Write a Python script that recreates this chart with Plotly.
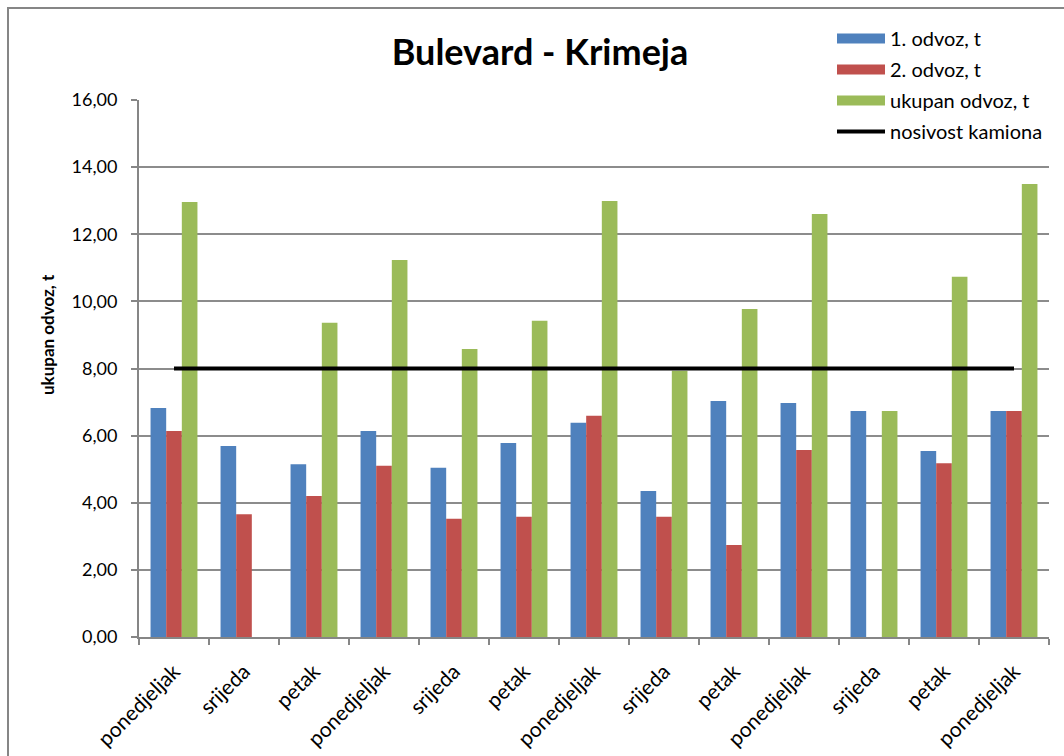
import plotly.graph_objects as go

categories = ["ponedjeljak", "srijeda", "petak", "ponedjeljak", "srijeda", "petak",
              "ponedjeljak", "srijeda", "petak", "ponedjeljak", "srijeda", "petak",
              "ponedjeljak"]
odvoz1 = [6.82, 5.69, 5.15, 6.14, 5.04, 5.78, 6.38, 4.35, 7.03, 6.97, 6.73, 5.54, 6.73]
odvoz2 = [6.14, 3.66, 4.20, 5.10, 3.52, 3.58, 6.59, 3.58, 2.74, 5.57, None, 5.18, 6.73]
ukupno = [12.96, None, 9.36, 11.23, 8.58, 9.42, 12.99, 7.93, 9.77, 12.60, 6.73, 10.73, 13.50]
nosivost = [8.0] * len(categories)

series_names = ["1. odvoz, t", "2. odvoz, t", "ukupan odvoz, t", "nosivost kamiona"]
colors = ["#4F81BD", "#C0504D", "#9BBB59"]
yticks = [0, 2, 4, 6, 8, 10, 12, 14, 16]

xpos = list(range(len(categories)))
FONT = "Lato, Carlito, Calibri, sans-serif"

fig = go.Figure()
for name, vals, c in zip(series_names[:3], [odvoz1, odvoz2, ukupno], colors):
    fig.add_trace(go.Bar(x=xpos, y=vals, name=name, showlegend=False,
                         marker=dict(color=c, line=dict(width=0))))
fig.add_trace(go.Scatter(x=xpos, y=nosivost, name=series_names[3], mode="lines",
                         showlegend=False, line=dict(color="black", width=4)))
# legend entries (wide swatches like the original)
for i, (name, c) in enumerate(zip(series_names[:3], colors)):
    fig.add_trace(go.Scatter(x=[None], y=[None], name=name, mode="lines",
                             legendgroup=f"g{i}", line=dict(color=c, width=14)))
fig.add_trace(go.Scatter(x=[None], y=[None], name=series_names[3], mode="lines",
                         legendgroup="g3", line=dict(color="black", width=4)))

fig.update_layout(
    width=1064, height=756,
    margin=dict(l=139, r=15, t=100, b=119),
    paper_bgcolor="white", plot_bgcolor="white",
    separators=", ",
    barmode="group", bargap=0.33, bargroupgap=0,
    font=dict(family=FONT, size=18, color="black"),
    title=dict(text="<b>Bulevard - Krimeja</b>", x=540 / 1064, xanchor="center",
               y=1 - 52 / 756, yanchor="middle", font=dict(size=36, family=FONT)),
    legend=dict(x=(832 - 139) / 910, y=(637 - 19) / 537, xanchor="left", yanchor="top",
                bgcolor="white", font=dict(size=20, family=FONT), itemwidth=48,
                tracegroupgap=2, traceorder="grouped"),
    showlegend=True,
)
fig.update_xaxes(
    range=[-0.5, len(categories) - 0.5], automargin=False,
    tickvals=xpos, ticktext=categories, tickangle=-45, ticks="",
    ticklabelstandoff=12,
    showline=True, linecolor="#868686", linewidth=2, showgrid=False, zeroline=False,
    tickfont=dict(size=21, family=FONT),
    minor=dict(tickvals=[i - 0.5 for i in range(len(categories) + 1)], ticks="outside",
               ticklen=6, tickcolor="#868686", tickwidth=2, showgrid=False),
)
fig.update_yaxes(
    range=[0, 16], tickvals=yticks, tickformat=".2f", automargin=False,
    ticks="outside", ticklen=6, tickcolor="#868686", tickwidth=2,
    ticklabelstandoff=10,
    showline=True, linecolor="#868686", linewidth=2,
    showgrid=True, gridcolor="#8c8c8c", gridwidth=2, zeroline=False,
    tickfont=dict(size=18, family=FONT),
)
# y-axis title (placed as in the original, above the vertical centre)
fig.add_annotation(text="<b>ukupan odvoz, t</b>", textangle=-90, showarrow=False,
                   xref="paper", yref="paper", x=(47 - 139) / 910, y=(637 - 335) / 537,
                   xanchor="center", yanchor="middle", font=dict(size=17, family=FONT))
# outer chart border
fig.add_shape(type="rect", xref="paper", yref="paper",
              x0=(8 - 139) / 910, x1=1.2, y0=-0.4, y1=(637 - 8) / 537,
              line=dict(color="#868686", width=2), fillcolor="rgba(0,0,0,0)", layer="below")

fig.write_html("out.html", config={"displayModeBar": False},
               post_script="document.body.style.margin='0';")
